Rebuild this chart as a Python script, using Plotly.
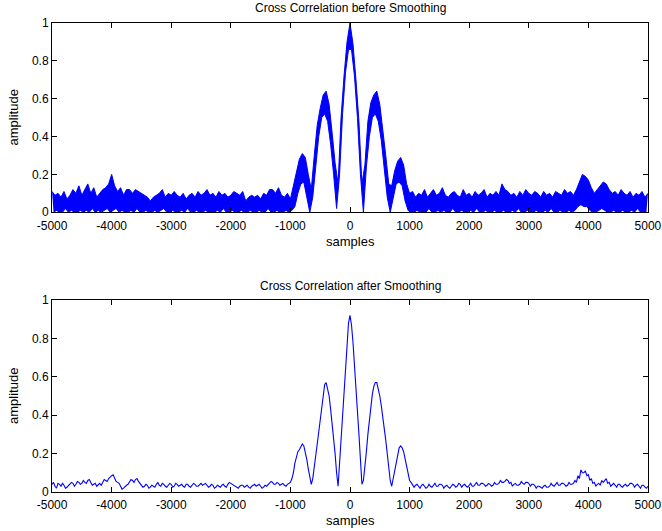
import plotly.graph_objects as go

# ---------------- data ----------------
x_start, x_end, step = -5000, 5000, 50

# Top: noisy correlation, upper excursions at -5000, -4950, ... 5000
before_upper = [
    0.11, 0.09, 0.10, 0.08, 0.11, 0.07, 0.09, 0.12, 0.10, 0.14,
    0.09, 0.12, 0.15, 0.10, 0.13, 0.08, 0.10, 0.12, 0.13, 0.15,
    0.20, 0.14, 0.11, 0.13, 0.09, 0.12, 0.12, 0.10, 0.12, 0.11,
    0.10, 0.09, 0.08, 0.06, 0.08, 0.09, 0.10, 0.12, 0.08, 0.10,
    0.09, 0.11, 0.09, 0.08, 0.10, 0.07, 0.09, 0.10, 0.08, 0.11,
    0.09, 0.10, 0.12, 0.09, 0.10, 0.08, 0.11, 0.09, 0.10, 0.08,
    0.09, 0.11, 0.10, 0.09, 0.11, 0.06, 0.08, 0.09, 0.08, 0.09,
    0.07, 0.10, 0.09, 0.12, 0.12, 0.10, 0.13, 0.09, 0.08, 0.10,
    0.07,
    0.14, 0.22, 0.28, 0.31, 0.29, 0.20, 0.12, 0.30, 0.46, 0.55,
    0.62, 0.64, 0.57, 0.42, 0.26, 0.15, 0.50, 0.72, 0.90, 1.00,
    0.89, 0.70, 0.48, 0.15, 0.25, 0.48, 0.58, 0.62, 0.64, 0.57,
    0.45, 0.30, 0.15, 0.14, 0.22, 0.27, 0.29, 0.25, 0.15, 0.10,
    0.11, 0.08, 0.10, 0.09, 0.12, 0.08, 0.10, 0.12, 0.09, 0.10,
    0.13, 0.09, 0.08, 0.10, 0.11, 0.09, 0.08, 0.12, 0.09, 0.10,
    0.08, 0.11, 0.09, 0.10, 0.12, 0.08, 0.10, 0.09, 0.11, 0.09,
    0.15, 0.12, 0.11, 0.09, 0.10, 0.08, 0.11, 0.09, 0.12, 0.10,
    0.09, 0.11, 0.10, 0.08, 0.11, 0.09, 0.10, 0.08, 0.11, 0.10,
    0.09, 0.12, 0.10, 0.11, 0.09, 0.12, 0.16, 0.20, 0.19, 0.17,
    0.13, 0.10, 0.12, 0.14, 0.16, 0.15, 0.12, 0.10, 0.11, 0.09,
    0.12, 0.10, 0.09, 0.11, 0.08, 0.10, 0.09, 0.11, 0.08, 0.10,
]

# Top: lower excursions at -4975, -4925, ... 4975
before_lower = [
    0.00, 0.01, 0.00, 0.00, 0.02, 0.00, 0.01, 0.00, 0.00, 0.01,
    0.00, 0.01, 0.00, 0.02, 0.00, 0.01, 0.00, 0.01, 0.02, 0.00,
    0.01, 0.02, 0.00, 0.01, 0.00, 0.00, 0.01, 0.00, 0.02, 0.00,
    0.00, 0.01, 0.00, 0.00, 0.01, 0.00, 0.01, 0.02, 0.00, 0.00,
    0.01, 0.00, 0.00, 0.01, 0.00, 0.02, 0.00, 0.00, 0.01, 0.00,
    0.00, 0.01, 0.00, 0.00, 0.00, 0.01, 0.00, 0.02, 0.00, 0.00,
    0.01, 0.00, 0.00, 0.01, 0.00, 0.00, 0.01, 0.00, 0.00, 0.01,
    0.00, 0.00, 0.02, 0.00, 0.00, 0.01, 0.00, 0.00, 0.01, 0.00,
    0.01,
    0.03, 0.10, 0.15, 0.16, 0.08, 0.00, 0.08, 0.26, 0.40, 0.50,
    0.52, 0.48, 0.36, 0.20, 0.02, 0.20, 0.52, 0.74, 0.86, 0.86,
    0.72, 0.50, 0.20, 0.00, 0.24, 0.40, 0.50, 0.52, 0.48, 0.38,
    0.24, 0.08, 0.00, 0.08, 0.15, 0.16, 0.14, 0.06, 0.01,
    0.00, 0.00, 0.01, 0.00, 0.00, 0.00, 0.02, 0.00, 0.00, 0.01,
    0.00, 0.01, 0.00, 0.00, 0.02, 0.00, 0.00, 0.01, 0.00, 0.00,
    0.01, 0.00, 0.02, 0.00, 0.00, 0.01, 0.00, 0.00, 0.01, 0.00,
    0.00, 0.01, 0.00, 0.00, 0.01, 0.00, 0.02, 0.00, 0.00, 0.01,
    0.00, 0.00, 0.01, 0.00, 0.00, 0.01, 0.00, 0.02, 0.00, 0.00,
    0.01, 0.00, 0.00, 0.01, 0.00, 0.01, 0.03, 0.04, 0.03, 0.03,
    0.01, 0.00, 0.00, 0.01, 0.02, 0.01, 0.00, 0.00, 0.01, 0.00,
    0.00, 0.01, 0.00, 0.00, 0.01, 0.00, 0.02, 0.00, 0.00, 0.00,
]

# Bottom: smoothed correlation at -5000, -4950, ... 5000
after_values = [
    0.040, 0.030, 0.045, 0.030, 0.035, 0.025, 0.040, 0.045, 0.040, 0.050,
    0.045, 0.050, 0.060, 0.050, 0.040, 0.030, 0.045, 0.050, 0.060, 0.070,
    0.085, 0.070, 0.050, 0.030, 0.020, 0.035, 0.050, 0.060, 0.065, 0.055,
    0.040, 0.030, 0.035, 0.025, 0.030, 0.040, 0.035, 0.045, 0.030, 0.035,
    0.040, 0.030, 0.040, 0.035, 0.030, 0.040, 0.030, 0.035, 0.040, 0.030,
    0.045, 0.040, 0.035, 0.030, 0.035, 0.025, 0.030, 0.035, 0.030, 0.040,
    0.045, 0.035, 0.025, 0.030, 0.035, 0.030, 0.025, 0.030, 0.040, 0.035,
    0.030, 0.025, 0.030, 0.045, 0.050, 0.040, 0.045, 0.040, 0.035, 0.040,
    0.050,
    0.100, 0.180, 0.220, 0.250, 0.210, 0.120, 0.040, 0.120, 0.250, 0.370,
    0.500, 0.570, 0.500, 0.360, 0.200, 0.030, 0.280, 0.550, 0.800, 0.920,
    0.780, 0.550, 0.300, 0.040, 0.120, 0.300, 0.450, 0.550, 0.570, 0.500,
    0.400, 0.270, 0.120, 0.030, 0.120, 0.200, 0.240, 0.210, 0.120, 0.060,
    0.040, 0.035, 0.030, 0.035, 0.030, 0.025, 0.030, 0.035, 0.030, 0.040,
    0.035, 0.030, 0.025, 0.030, 0.035, 0.030, 0.040, 0.035, 0.030, 0.035,
    0.030, 0.040, 0.035, 0.045, 0.040, 0.035, 0.040, 0.035, 0.040, 0.045,
    0.050, 0.055, 0.060, 0.050, 0.040, 0.035, 0.040, 0.045, 0.050, 0.045,
    0.040, 0.035, 0.030, 0.025, 0.030, 0.025, 0.030, 0.035, 0.040, 0.035,
    0.045, 0.040, 0.035, 0.040, 0.045, 0.050, 0.070, 0.100, 0.110, 0.090,
    0.070, 0.050, 0.040, 0.035, 0.050, 0.070, 0.050, 0.040, 0.035, 0.040,
    0.030, 0.035, 0.030, 0.045, 0.040, 0.035, 0.030, 0.035, 0.025, 0.030,
]

# Bottom: in-between samples at -4975, -4925, ... 4975 (fine ripple)
after_mid_values = [
    0.050, 0.020, 0.040, 0.045, 0.020, 0.035, 0.050, 0.030, 0.055, 0.040,
    0.060, 0.045, 0.065, 0.035, 0.045, 0.040, 0.035, 0.065, 0.055, 0.080,
    0.090, 0.055, 0.045, 0.015, 0.030, 0.040, 0.065, 0.050, 0.070, 0.045,
    0.025, 0.040, 0.020, 0.035, 0.025, 0.050, 0.030, 0.040, 0.025, 0.045,
    0.025, 0.045, 0.030, 0.040, 0.025, 0.040, 0.025, 0.045, 0.030, 0.040,
    0.035, 0.045, 0.025, 0.040, 0.020, 0.035, 0.025, 0.040, 0.025, 0.050,
    0.040, 0.030, 0.020, 0.035, 0.025, 0.035, 0.020, 0.035, 0.030, 0.040,
    0.020, 0.035, 0.040, 0.055, 0.040, 0.050, 0.035, 0.045, 0.030, 0.045,
    0.070, 0.150, 0.210, 0.240, 0.240, 0.170, 0.070, 0.070, 0.190, 0.310,
    0.440, 0.560, 0.540, 0.430, 0.280, 0.100, 0.150, 0.420, 0.680, 0.880,
    0.870, 0.670, 0.420, 0.170, 0.060, 0.210, 0.380, 0.510, 0.570, 0.540,
    0.450, 0.330, 0.190, 0.060, 0.070, 0.160, 0.230, 0.230, 0.170, 0.080,
    0.050, 0.025, 0.040, 0.020, 0.040, 0.020, 0.040, 0.025, 0.045, 0.030,
    0.040, 0.020, 0.035, 0.020, 0.040, 0.025, 0.045, 0.025, 0.040, 0.025,
    0.045, 0.030, 0.050, 0.035, 0.045, 0.030, 0.045, 0.030, 0.050, 0.040,
    0.060, 0.050, 0.065, 0.045, 0.030, 0.045, 0.035, 0.055, 0.040, 0.050,
    0.030, 0.040, 0.020, 0.030, 0.020, 0.035, 0.025, 0.045, 0.030, 0.050,
    0.035, 0.045, 0.030, 0.050, 0.040, 0.060, 0.085, 0.115, 0.100, 0.085,
    0.060, 0.045, 0.030, 0.045, 0.060, 0.060, 0.045, 0.030, 0.045, 0.025,
    0.040, 0.025, 0.040, 0.035, 0.045, 0.025, 0.040, 0.020, 0.035, 0.020,
]

y_ticks = [0, 0.2, 0.4, 0.6, 0.8, 1]
y_tick_labels = ["0", "0.2", "0.4", "0.6", "0.8", "1"]
x_ticks = [-5000, -4000, -3000, -2000, -1000, 0, 1000, 2000, 3000, 4000, 5000]
x_tick_labels = ["-5000", "-4000", "-3000", "-2000", "-1000", "0",
                 "1000", "2000", "3000", "4000", "5000"]

# ---------------- build traces ----------------
x_upper = [x_start + i * step for i in range(len(before_upper))]
x_lower = [x_start + step // 2 + i * step for i in range(len(before_lower))]

x_after, y_after = [], []
for i in range(len(after_values)):
    x_after.append(x_start + i * step); y_after.append(after_values[i])
    if i < len(after_mid_values):
        x_after.append(x_start + step // 2 + i * step); y_after.append(after_mid_values[i])

BLUE = "#0000ff"
FONT = "Liberation Sans, Arial, Helvetica, sans-serif"

fig = go.Figure()
# lower edge of the noisy band
fig.add_trace(go.Scatter(x=x_lower, y=before_lower, mode="lines",
                         line=dict(color=BLUE, width=1),
                         xaxis="x", yaxis="y", showlegend=False))
# upper edge, filled down to the lower edge
fig.add_trace(go.Scatter(x=x_upper, y=before_upper, mode="lines",
                         line=dict(color=BLUE, width=1),
                         fill="tonexty", fillcolor=BLUE,
                         xaxis="x", yaxis="y", showlegend=False))
fig.add_trace(go.Scatter(x=x_after, y=y_after, mode="lines",
                         line=dict(color=BLUE, width=1.1),
                         xaxis="x2", yaxis="y2", showlegend=False))

axis_common = dict(showline=True, linecolor="black", linewidth=1, mirror="ticks",
                   ticks="inside", ticklen=5, tickcolor="black", showgrid=False,
                   zeroline=False, automargin=False,
                   tickfont=dict(family=FONT, size=12, color="black"))

xr = [-5001, 5001]
fig.update_layout(
    width=662, height=531,
    margin=dict(l=52, r=14, t=23, b=39, autoexpand=False),
    paper_bgcolor="white", plot_bgcolor="white",
    font=dict(family=FONT, color="black"),
    xaxis=dict(domain=[0, 1], anchor="y", range=xr, ticklabelstandoff=2,
               tickvals=x_ticks, ticktext=x_tick_labels, **axis_common),
    yaxis=dict(domain=[0.5964, 1], anchor="x", range=[0, 1],
               tickvals=y_ticks, ticktext=y_tick_labels, **axis_common),
    xaxis2=dict(domain=[0, 1], anchor="y2", range=xr, ticklabelstandoff=2,
                tickvals=x_ticks, ticktext=x_tick_labels, **axis_common),
    yaxis2=dict(domain=[0, 0.4094], anchor="x2", range=[0, 1],
                tickvals=y_ticks, ticktext=y_tick_labels, **axis_common),
)

ann_font = dict(family=FONT, size=12, color="black")
label_font = dict(family=FONT, size=13, color="black")
annotations = [
    dict(text="Cross Correlation before Smoothing", x=0.5, y=1.032, font=ann_font),
    dict(text="Cross Correlation after Smoothing", x=0.5, y=0.439, font=ann_font),
    dict(text="samples", x=0.5, y=0.5331, font=label_font),
    dict(text="samples", x=0.5, y=-0.0618, font=label_font),
    dict(text="amplitude", x=-0.0638, y=0.7985, textangle=-90, font=label_font),
    dict(text="amplitude", x=-0.0638, y=0.2047, textangle=-90, font=label_font),
]
for a in annotations:
    fig.add_annotation(xref="paper", yref="paper", showarrow=False,
                       xanchor="center", yanchor="middle", **a)

fig.write_html("out.html")
